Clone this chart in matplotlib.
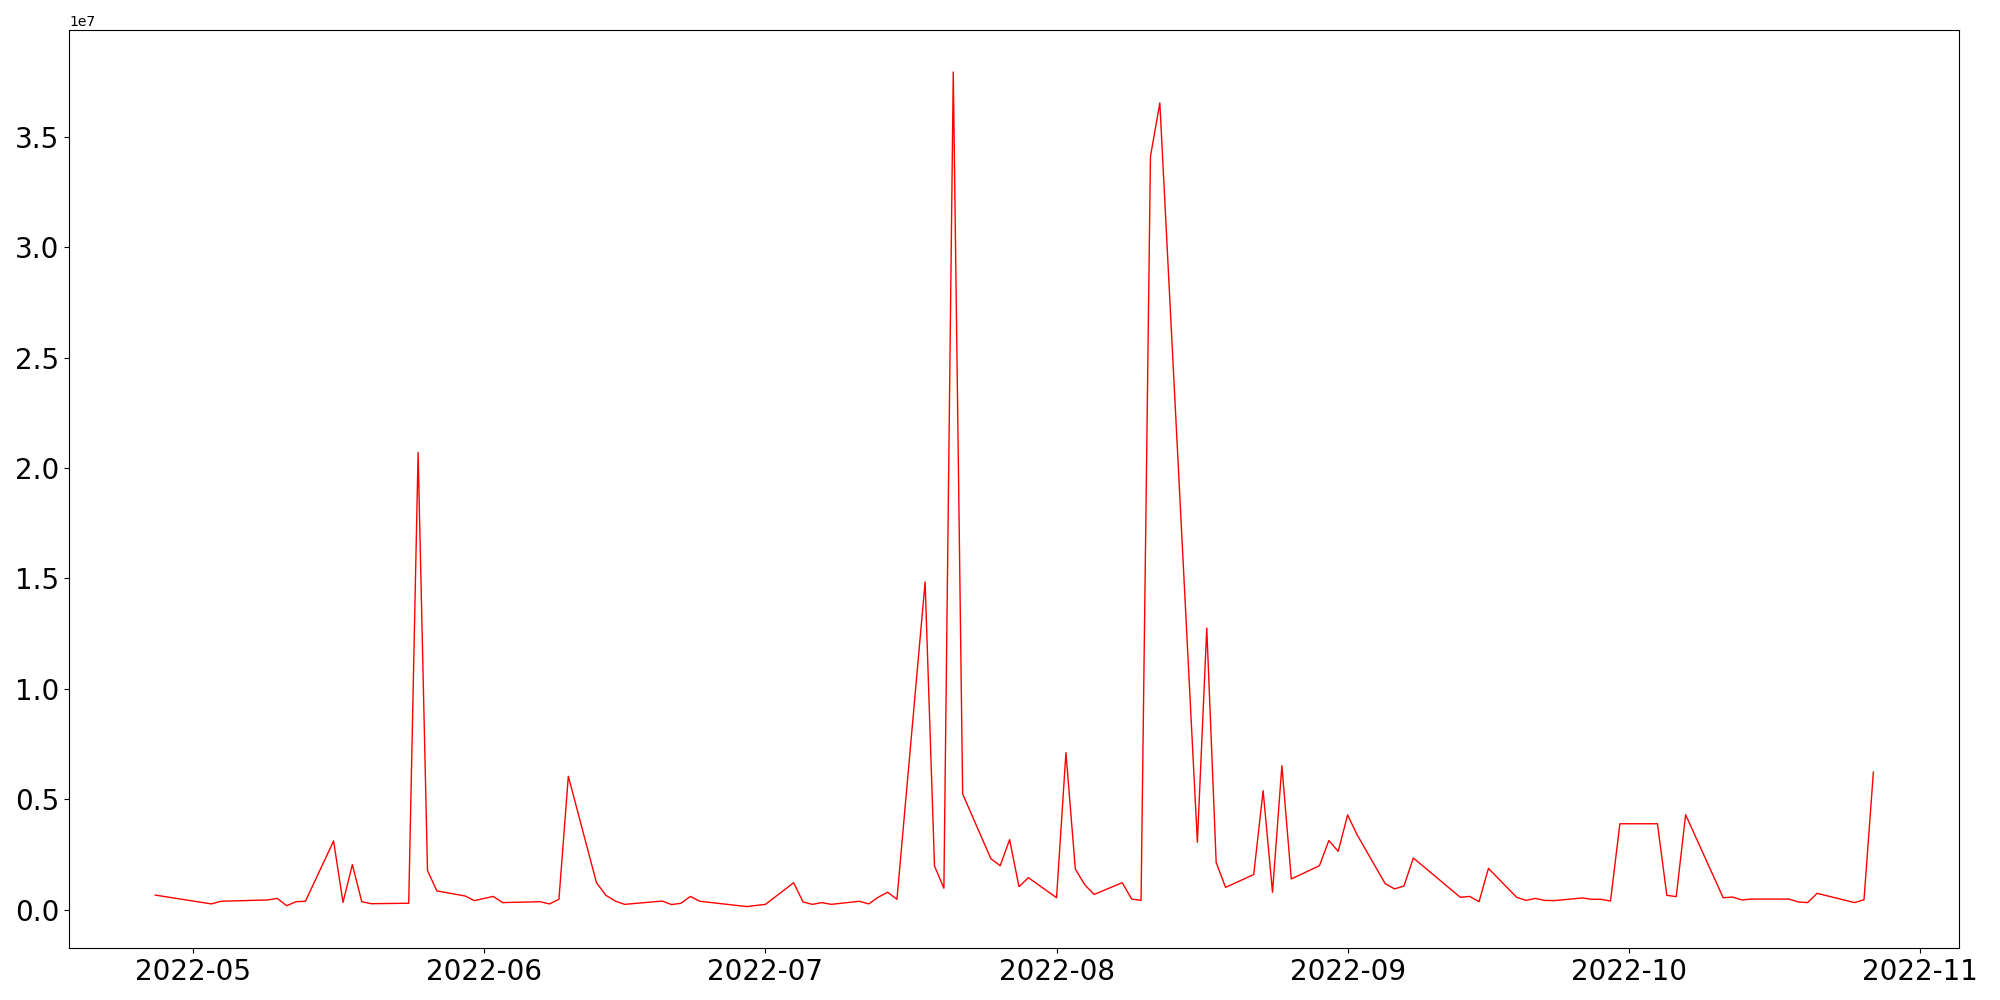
import matplotlib
matplotlib.use("Agg")
import matplotlib.pyplot as plt
import pandas as pd

# trading days and values
dates = [
    "2022-04-27", "2022-05-03", "2022-05-04", "2022-05-09", "2022-05-10",
    "2022-05-11", "2022-05-12", "2022-05-13", "2022-05-16", "2022-05-17",
    "2022-05-18", "2022-05-19", "2022-05-20", "2022-05-24", "2022-05-25",
    "2022-05-26", "2022-05-27", "2022-05-30", "2022-05-31", "2022-06-02",
    "2022-06-03", "2022-06-07", "2022-06-08", "2022-06-09", "2022-06-10",
    "2022-06-13", "2022-06-14", "2022-06-15", "2022-06-16", "2022-06-20",
    "2022-06-21", "2022-06-22", "2022-06-23", "2022-06-24", "2022-06-29",
    "2022-07-01", "2022-07-04", "2022-07-05", "2022-07-06", "2022-07-07",
    "2022-07-08", "2022-07-11", "2022-07-12", "2022-07-13", "2022-07-14",
    "2022-07-15", "2022-07-18", "2022-07-19", "2022-07-20", "2022-07-21",
    "2022-07-22", "2022-07-25", "2022-07-26", "2022-07-27", "2022-07-28",
    "2022-07-29", "2022-08-01", "2022-08-02", "2022-08-03", "2022-08-04",
    "2022-08-05", "2022-08-08", "2022-08-09", "2022-08-10", "2022-08-11",
    "2022-08-12", "2022-08-16", "2022-08-17", "2022-08-18", "2022-08-19",
    "2022-08-22", "2022-08-23", "2022-08-24", "2022-08-25", "2022-08-26",
    "2022-08-29", "2022-08-30", "2022-08-31", "2022-09-01", "2022-09-02",
    "2022-09-05", "2022-09-06", "2022-09-07", "2022-09-08", "2022-09-13",
    "2022-09-14", "2022-09-15", "2022-09-16", "2022-09-19", "2022-09-20",
    "2022-09-21", "2022-09-22", "2022-09-23", "2022-09-26", "2022-09-27",
    "2022-09-28", "2022-09-29", "2022-09-30", "2022-10-04", "2022-10-05",
    "2022-10-06", "2022-10-07", "2022-10-11", "2022-10-12", "2022-10-13",
    "2022-10-14", "2022-10-18", "2022-10-19", "2022-10-20", "2022-10-21",
    "2022-10-25", "2022-10-26", "2022-10-27",
]

# values in millions
values_m = [
    0.66, 0.26, 0.38, 0.44, 0.51,
    0.18, 0.36, 0.38, 3.11, 0.33,
    2.04, 0.36, 0.27, 0.29, 20.7,
    1.77, 0.85, 0.62, 0.41, 0.60,
    0.32, 0.36, 0.26, 0.47, 6.04,
    1.22, 0.65, 0.39, 0.24, 0.39,
    0.23, 0.29, 0.60, 0.38, 0.14,
    0.24, 1.22, 0.35, 0.24, 0.32,
    0.24, 0.38, 0.26, 0.56, 0.79,
    0.47, 14.84, 1.98, 0.97, 37.93,
    5.24, 2.31, 1.99, 3.17, 1.04,
    1.45, 0.54, 7.11, 1.84, 1.13,
    0.69, 1.22, 0.48, 0.42, 34.1,
    36.53, 3.05, 12.75, 2.14, 1.01,
    1.59, 5.39, 0.79, 6.52, 1.39,
    1.99, 3.13, 2.64, 4.29, 3.40,
    1.18, 0.94, 1.07, 2.34, 0.56,
    0.60, 0.36, 1.87, 0.56, 0.42,
    0.51, 0.42, 0.41, 0.53, 0.47,
    0.47, 0.39, 3.89, 3.89, 0.65,
    0.59, 4.30, 0.54, 0.57, 0.44,
    0.48, 0.48, 0.35, 0.32, 0.74,
    0.32, 0.45, 6.23,
]

x = pd.to_datetime(dates)
y = [v * 1e6 for v in values_m]

fig = plt.figure(figsize=(20, 10), dpi=100)
ax = fig.add_axes([0.03465, 0.0517, 0.945, 0.918])
ax.plot(x, y, color="red", linewidth=1)
ax.tick_params(axis="both", labelsize=20)

fig.savefig("out.png", dpi=100)
